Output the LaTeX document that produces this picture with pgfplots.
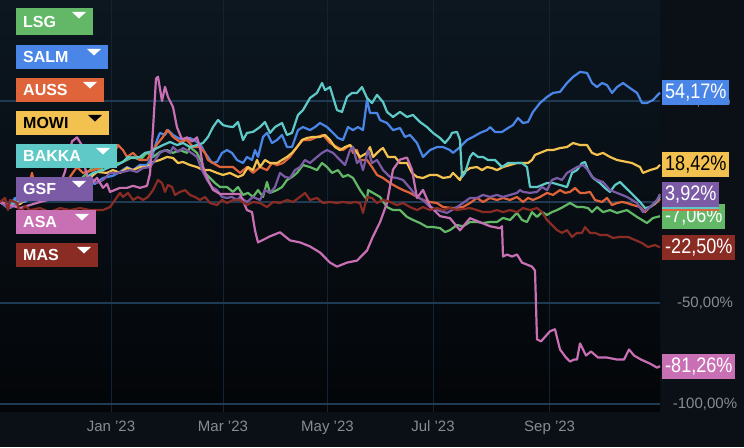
\documentclass[border=0pt]{standalone}
\usepackage{fontspec}
\setmainfont{Liberation Sans}
\newfontfamily\condfont[FakeStretch=0.86]{Liberation Sans}
\usepackage{pgfplots}
\pgfplotsset{compat=1.18}
\definecolor{cLSG}{HTML}{62B866}
\definecolor{cSALM}{HTML}{4A86E8}
\definecolor{cAUSS}{HTML}{E0643A}
\definecolor{cMOWI}{HTML}{F3C14F}
\definecolor{cBAKKA}{HTML}{5EC9C6}
\definecolor{cGSF}{HTML}{7B5BA6}
\definecolor{cASA}{HTML}{C96FB4}
\definecolor{cMAS}{HTML}{8A2C24}
\definecolor{bgout}{HTML}{0A1016}
\definecolor{bgtop}{HTML}{0C1720}
\definecolor{bgbot}{HTML}{030508}
\definecolor{hgrid}{HTML}{1F3B53}
\definecolor{vgrid}{HTML}{122433}
\definecolor{ticktxt}{HTML}{878C92}
% legend box: #1 top(px) #2 right(px) #3 height #4 colour #5 text #6 text colour #7 triangle colour
\newcommand{\legbox}[7]{%
  \fill[#4] (16pt,{447pt-#1pt}) rectangle (#2pt,{447pt-#1pt-#3pt});
  \node[anchor=west,text=#6,inner sep=0pt,font=\fontsize{16}{16}\selectfont\bfseries] at (23pt,{447pt-#1pt-0.5*#3pt}) {#5};
  \fill[#7] ({#2pt-21pt},{447pt-#1pt-4pt}) -- ({#2pt-7pt},{447pt-#1pt-4pt}) -- ({#2pt-14pt},{447pt-#1pt-10.5pt}) -- cycle;
}
\begin{document}
\begin{tikzpicture}
\fill[bgout] (0,0) rectangle (744pt,447pt);
\shade[top color=bgtop,bottom color=bgbot] (0,35pt) rectangle (660pt,447pt);
\begin{axis}[
  at={(0pt,35pt)}, anchor=south west,
  scale only axis, width=660pt, height=412pt,
  xmin=0, xmax=660, ymin=-103.96, ymax=100,
  axis line style={draw=none},
  major tick length=0pt,
  clip=false,
  xtick={111,223,327.5,433,549.6},
  xticklabels={Jan '23,Mar '23,May '23,Jul '23,Sep '23},
  xticklabel style={font=\fontsize{15}{15}\selectfont, text=ticktxt, yshift=-5pt},
  ytick={-100,-50,0,50},
  yticklabels={{-100,00\%},{-50,00\%},{},{50,00\%}},
  yticklabel pos=right,
  yticklabel style={font=\fontsize{15}{15}\selectfont, text=ticktxt, anchor=center, xshift=45pt},
  xmajorgrids, ymajorgrids,
  x grid style={vgrid, line width=1pt},
  y grid style={hgrid, line width=1.3pt},
  every axis plot/.append style={line width=2.2pt, line join=round, mark=none},
]
% LSG
\addplot[cLSG] coordinates {(0,0)(10,-2)(20,3)(30,4)(40,5)(50,7)(60,8)(70,9)(80,11)(93,17.3)(100,15.8)(107,19.3)(113,19.3)(120,19.3)(127,20.8)(133,22.3)(140,20.8)(147,24.3)(153,22.3)(160,24.8)(167,25.7)(173,24.3)(180,25.7)(187,24.3)(190,27.2)(197,24.3)(202,19.3)(205,14.4)(210,11.9)(215,9.4)(220,7.4)(227,7.4)(233,5.0)(238,7.4)(243,3.5)(248,4.5)(253,2.5)(258,5.9)(263,2.5)(267,9.9)(270,4.5)(277,5.9)(282,7.4)(287,10.9)(292,12.4)(297,14.4)(303,18.3)(310,17.3)(317,15.8)(322,19.3)(327,17.3)(332,14.4)(338,15.8)(343,12.4)(348,13.4)(353,11.9)(360,5.9)(367,1.0)(368,5.9)(373,4.5)(380,2.5)(387,-2.5)(393,-4.0)(400,-4.0)(407,-7.4)(413,-8.9)(420,-10.4)(427,-12.4)(433,-12.4)(440,-12.9)(445,-14.9)(450,-13.9)(457,-11.4)(463,-12.0)(470,-9.9)(477,-9.9)(483,-10.4)(490,-9.9)(497,-9.9)(503,-7.9)(510,-8.9)(517,-5.4)(522,-8.9)(527,-9.9)(532,-5.0)(537,-7.4)(542,-5.0)(547,-6.4)(552,-5.0)(557,-4.0)(563,-2.5)(570,-0.5)(577,-2.5)(583,-2.5)(588,-3.0)(592,-5.0)(597,-2.5)(603,-5.0)(610,-4.0)(617,-5.4)(627,-4.0)(637,-7.4)(647,-10.4)(653,-7.9)(660,-7.06)};
% SALM
\addplot[cSALM] coordinates {(0,0)(8,-3)(15,2)(25,0)(35,4)(45,3)(55,6)(65,5)(75,8)(85,10)(95,9)(103,11.9)(113,13)(120,14.9)(127,17.3)(133,15.8)(140,18.3)(147,18.3)(152,22.3)(157,30.7)(160,34.2)(165,33.2)(168,35.6)(173,33.2)(178,31.7)(183,30.7)(190,31.7)(197,29.7)(202,27.2)(205,24.3)(208,22.3)(212,19.3)(217,19.8)(222,24.3)(227,25.7)(232,24.3)(237,20.8)(243,19.3)(247,22.3)(252,20.8)(255,25.7)(258,22.3)(263,32.2)(267,34.2)(272,29.2)(277,30.7)(282,33.2)(287,27.2)(292,27.2)(298,35.6)(303,37.1)(310,35.6)(315,37.1)(320,39.1)(327,37.1)(333,34.2)(338,31.7)(343,30.7)(348,37.1)(353,35.6)(358,37.1)(363,35.6)(367,50.5)(370,44.1)(377,44.1)(380,40.6)(387,39.1)(393,35.6)(400,36.6)(405,32.2)(410,33.2)(417,29.2)(423,22.3)(430,25.7)(437,27.2)(443,27.2)(450,25.7)(453,24.3)(460,27.2)(467,30.7)(473,32.2)(480,34.2)(487,35.6)(490,37.1)(495,34.7)(502,34.7)(508,36.6)(513,38.1)(518,41.6)(523,39.1)(528,39.6)(533,44.6)(540,49.0)(547,52.0)(553,54.0)(560,54.5)(567,58.9)(573,61.9)(580,64.4)(587,63.9)(592,58.9)(597,56.9)(602,58.9)(607,57.9)(612,54.0)(617,56.9)(623,58.9)(630,56.4)(637,54.0)(642,49.0)(647,49.0)(653,50.5)(660,54.17)};
% AUSS
\addplot[cAUSS] coordinates {(0,0)(10,-3)(20,2)(28,6)(32,14.4)(36,5)(45,4)(55,7)(65,9)(77,17.3)(83,14.4)(95,16)(105,18)(113,23)(118,28.2)(123,25.7)(127,22.3)(133,24.3)(140,20.8)(147,20.8)(153,25.7)(158,29.2)(163,32.2)(167,35.6)(170,34.2)(173,32.2)(180,29.7)(187,30.7)(193,27.2)(200,27.2)(205,24.3)(208,20.8)(213,19.3)(220,17.3)(227,17.3)(233,17.3)(240,14.4)(247,17.3)(253,14.4)(260,17.3)(267,15.8)(272,19.3)(277,18.3)(283,19.3)(290,22.3)(297,27.2)(303,30.7)(310,30.7)(317,32.2)(323,33.2)(330,29.2)(337,27.2)(343,25.7)(350,28.2)(353,24.3)(357,25.7)(360,20.8)(367,20.8)(372,17.3)(377,13.4)(383,11.9)(390,9.4)(397,7.4)(403,5.9)(410,4.5)(417,2.5)(423,1.0)(430,0)(437,-0.5)(443,-2.5)(453,-3.0)(463,-2.5)(470,-0.5)(477,2.0)(483,0)(490,2.0)(497,1.0)(503,2.0)(510,1.0)(517,2.5)(523,0)(528,2.0)(533,1.0)(540,2.5)(547,4.5)(553,3.5)(560,5.9)(565,4.5)(570,5.0)(575,6.9)(580,4.5)(585,4.5)(590,5.0)(595,1.0)(602,0)(607,2.0)(612,-1.5)(617,-0.5)(622,0)(627,-0.5)(633,-1.5)(640,-2.5)(645,-5.0)(650,-2.5)(655,-1.0)(660,1.5)};
% MOWI
\addplot[cMOWI] coordinates {(0,0)(8,-2)(20,-1)(30,3)(40,2)(50,5)(60,6)(70,8)(80,9)(90,12)(97,14.9)(107,14.4)(113,15.8)(120,14.4)(127,16.8)(133,15.8)(140,17.3)(147,17.3)(153,19.8)(160,20.8)(167,22.3)(173,21.8)(178,19.3)(183,19.8)(190,18.3)(197,17.3)(203,15.8)(210,15.8)(217,14.4)(223,13.4)(230,14.4)(238,12.4)(243,13.4)(248,17.3)(253,15.8)(257,20.8)(260,17.3)(265,20.8)(270,19.3)(277,19.3)(282,20.8)(287,22.3)(292,24.3)(297,27.2)(302,30.7)(307,31.7)(313,32.2)(320,32.2)(325,33.2)(330,30.7)(335,27.2)(340,25.7)(345,27.2)(350,28.2)(355,25.7)(360,22.3)(367,24.3)(370,27.2)(373,22.3)(380,25.7)(383,26.7)(388,22.3)(395,22.3)(400,19.3)(407,19.3)(412,14.4)(417,12.4)(423,11.9)(430,13.4)(437,13.4)(443,11.9)(450,12.4)(453,14.4)(460,10.9)(463,14.4)(470,16.8)(477,17.3)(482,15.8)(487,17.3)(492,16.8)(497,15.8)(503,17.3)(510,18.3)(517,19.3)(523,19.3)(528,19.3)(532,20.8)(535,23.3)(540,24.3)(547,25.7)(553,25.7)(560,26.7)(567,27.2)(573,29.2)(580,28.2)(587,28.2)(592,24.3)(597,23.3)(603,24.3)(610,22.3)(617,20.8)(625,20.0)(632,19.3)(640,17.3)(643,14.4)(650,15.8)(657,16.8)(660,18.42)};
% BAKKA
\addplot[cBAKKA] coordinates {(0,0)(10,-2)(20,1)(30,3)(40,4)(50,6)(60,7)(70,9)(80,10)(93,14.4)(103,15.8)(110,17.3)(117,18.3)(123,19.8)(128,22.3)(133,21.8)(140,22.3)(145,24.3)(150,24.8)(157,26.7)(163,28.2)(170,29.7)(177,28.2)(183,29.2)(190,27.2)(197,28.2)(203,29.2)(208,32.2)(213,37.1)(218,40.6)(223,38.1)(227,37.5)(233,37.1)(238,39.6)(243,30.7)(247,34.2)(253,34.7)(260,37.1)(265,39.6)(270,34.2)(275,37.1)(282,39.1)(287,33.2)(292,34.2)(298,43.1)(303,45.5)(310,51.5)(317,54.0)(322,58.9)(325,55.4)(330,56.9)(333,52.0)(337,45.5)(342,44.6)(347,52.0)(352,54.0)(357,54.0)(362,56.9)(367,51.5)(372,49.0)(377,53.0)(383,49.5)(387,44.6)(393,42.1)(400,44.6)(407,42.1)(413,43.1)(420,39.6)(427,37.1)(433,34.2)(440,31.7)(445,29.2)(450,32.2)(452,34.2)(457,34.7)(460,30.7)(462,12.4)(465,14.4)(470,22.3)(473,24.3)(478,22.3)(483,22.3)(488,20.8)(495,20.8)(502,17.3)(508,19.3)(515,19.3)(522,19.3)(527,17.3)(530,7.4)(537,7.4)(542,8.4)(547,9.4)(553,9.4)(560,8.4)(567,7.4)(572,14.4)(577,15.8)(582,19.3)(585,19.8)(588,15.8)(593,11.9)(600,9.4)(605,6.9)(610,5.0)(615,8.4)(620,9.9)(625,7.4)(630,5.0)(635,2.5)(640,0)(645,-3.0)(650,-2.5)(655,-0.5)(660,2.8)};
% GSF
\addplot[cGSF] coordinates {(0,0)(10,-3)(20,0)(30,2)(40,1)(50,3)(60,5)(70,6)(80,8)(90,12.4)(97,9.4)(103,10.9)(110,14.4)(117,14.4)(123,14.9)(130,15.8)(137,14.9)(143,16.8)(150,17.3)(155,20.8)(160,24.3)(165,25.7)(170,24.3)(173,27.2)(178,24.8)(183,26.7)(190,24.8)(197,22.3)(202,15.8)(207,10.9)(212,7.4)(217,5.9)(222,2.5)(227,2.0)(232,2.5)(237,1.0)(240,2.5)(247,0)(253,2.5)(260,1.0)(265,5.9)(270,4.5)(275,7.4)(280,14.4)(285,12.4)(290,11.9)(295,15.8)(300,17.3)(305,20.8)(310,19.3)(317,22.3)(322,24.3)(327,25.7)(333,24.3)(340,20.8)(345,18.3)(350,25.7)(353,27.2)(357,19.3)(360,20.8)(363,15.8)(368,25.7)(372,19.3)(377,20.8)(383,15.8)(390,12.4)(397,11.9)(403,10.9)(410,6.9)(417,2.5)(423,1.0)(430,-2.5)(437,-4.0)(447,-5.4)(457,-2.5)(463,-0.5)(470,2.0)(477,2.0)(483,3.5)(490,2.5)(497,3.5)(503,2.5)(510,3.5)(517,4.5)(520,5.9)(523,5.0)(530,4.5)(537,5.0)(542,7.4)(547,5.9)(552,10.9)(557,11.9)(562,10.9)(567,14.4)(572,15.8)(577,17.3)(583,18.3)(588,15.8)(592,12.4)(597,10.9)(603,9.9)(610,5.9)(617,4.5)(627,2.5)(637,-0.5)(643,-5.0)(650,-2.5)(657,1.0)(660,3.92)};
% ASA
\addplot[cASA] coordinates {(0,0)(20,-3)(40,0)(55,2)(65,15)(72,30)(77,32)(82,28)(85,17)(90,8)(97,12)(103,7)(107,9)(110,5)(115,6)(120,7)(127,7)(133,8)(140,7)(147,8)(150,14)(153,36)(156,61)(158,62)(162,50)(165,57)(168,52)(173,47)(177,37)(182,31)(187,32)(192,30)(197,32)(200,27)(203,17)(208,11)(213,6)(220,4)(230,4)(240,4)(247,-4)(252,-5)(255,-14)(258,-20)(270,-17)(280,-15)(290,-19)(300,-20)(310,-22)(320,-25)(330,-30)(337,-32)(347,-30)(357,-29)(367,-24)(373,-17)(380,-10)(387,-0.5)(393,16)(400,21)(407,22)(412,16)(417,2)(423,6)(430,-2)(440,-7)(450,-8)(460,-14)(470,-8)(480,-10)(490,-12)(500,-13)(502,-12)(503,-27)(507,-26)(512,-27)(517,-26)(522,-30)(527,-31)(532,-32)(535,-34)(537,-68)(541,-69)(550,-64)(555,-63)(560,-73)(566,-77)(570,-79)(574,-78)(577,-78)(580,-70)(586,-76)(591,-74)(598,-77)(607,-77)(617,-78)(624,-78)(629,-73)(634,-76)(641,-78)(650,-80)(657,-82)(660,-81.26)};
% MAS
\addplot[cMAS] coordinates {(0,0)(5,2)(8,-4)(10,1)(17,-0.5)(20,-5.4)(25,-2)(30,-4)(40,-3)(50,-5)(60,-3)(70,-4)(80,-3)(90,-4)(97,-4.0)(103,-4.0)(110,-2.5)(115,1.0)(120,4.5)(123,2.5)(128,4.5)(133,1.0)(138,2.5)(143,1.0)(148,2.5)(153,5.9)(158,10.9)(162,9.4)(165,5.0)(168,8.4)(172,7.4)(175,3.5)(180,5.0)(185,5.9)(190,3.5)(195,2.5)(200,1.0)(205,2.5)(210,-0.5)(217,-1.5)(222,1.0)(227,-0.5)(233,1.0)(240,1.0)(247,-1.5)(253,0)(260,-0.5)(267,-2.5)(273,0)(280,-0.5)(287,1.0)(293,0)(300,2.5)(305,4.5)(310,1.0)(317,2.0)(323,-0.5)(330,0)(337,-0.5)(343,0)(350,-0.5)(355,0)(360,-0.5)(363,-5.4)(367,2.5)(372,2.0)(377,-0.5)(383,1.0)(390,0)(397,-1.5)(403,-0.5)(410,-2.5)(417,-4.0)(423,-2.5)(430,-4.0)(437,-3.0)(443,-4.0)(450,-3.0)(457,-4.0)(463,-3.5)(470,-3.0)(477,-4.0)(483,-5.0)(490,-5.0)(497,-4.0)(503,-5.0)(510,-4.0)(517,-5.0)(523,-3.0)(530,-4.0)(537,-3.0)(542,-5.0)(547,-8.9)(552,-11.4)(557,-13.9)(562,-15.3)(567,-13.9)(572,-17.3)(577,-15.3)(582,-15.3)(585,-12.4)(590,-15.3)(595,-15.3)(600,-16.3)(607,-16.3)(613,-17.8)(620,-17.3)(628,-17.3)(635,-18.8)(642,-20.3)(648,-22.3)(655,-21.3)(660,-22.5)};
% value labels
\tikzset{vlab/.style={anchor=west, xshift=2pt, inner xsep=3pt, inner ysep=0pt, minimum height=25pt, text=white, font=\fontsize{21}{21}\selectfont\condfont}}
\node[vlab, fill=cLSG] at (axis cs:660,-7.06) {-7,06\%};
\node[vlab, fill=cAUSS] at (axis cs:660,1.5) {\phantom{1,50\%}};
\node[vlab, fill=cBAKKA] at (axis cs:660,2.8) {\phantom{2,80\%}};
\node[vlab, fill=cGSF] at (axis cs:660,3.92) {3,92\%};
\node[vlab, fill=cMOWI, text=black] at (axis cs:660,18.42) {18,42\%};
\node[vlab, fill=cSALM] at (axis cs:660,54.17) {54,17\%};
\node[vlab, fill=cMAS] at (axis cs:660,-22.5) {-22,50\%};
\node[vlab, fill=cASA] at (axis cs:660,-81.26) {-81,26\%};
\end{axis}
\legbox{8}{93}{27}{cLSG}{LSG}{white}{white}
\legbox{45}{108}{24}{cSALM}{SALM}{white}{white}
\legbox{78}{104}{24}{cAUSS}{AUSS}{white}{white}
\legbox{111}{109}{24}{cMOWI}{MOWI}{black}{black}
\legbox{144}{117}{24}{cBAKKA}{BAKKA}{white}{white}
\legbox{177}{93}{24}{cGSF}{GSF}{white}{white}
\legbox{210}{96}{24}{cASA}{ASA}{white}{white}
\legbox{243}{98}{24}{cMAS}{MAS}{white}{white}
\pgfresetboundingbox
\useasboundingbox (0,0) rectangle (744pt,447pt);
\end{tikzpicture}
\end{document}
